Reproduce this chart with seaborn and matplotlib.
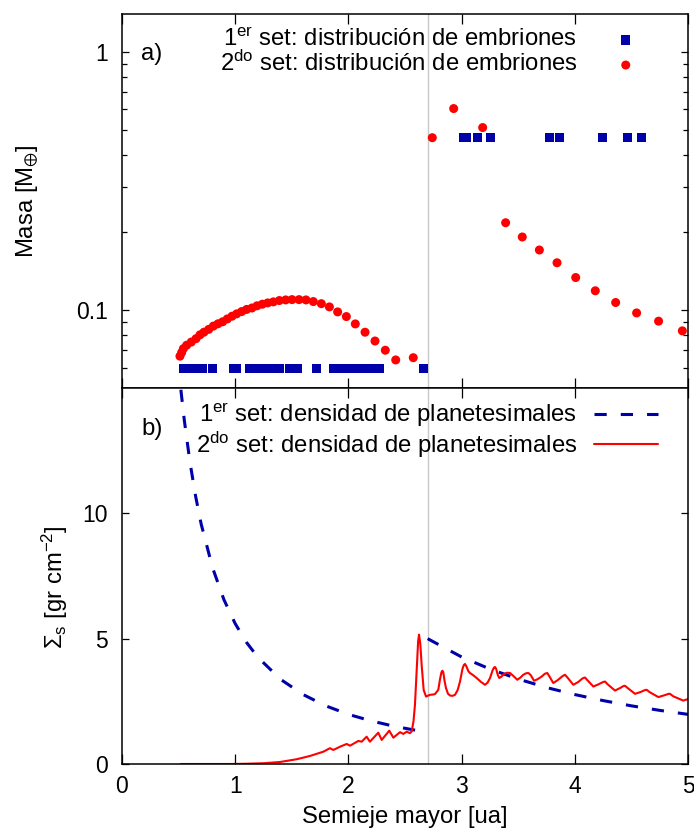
import numpy as np
import pandas as pd
import matplotlib
matplotlib.use("Agg")
import matplotlib.pyplot as plt
import seaborn as sns

# ---------------- data ----------------
# 1st set: embryo distribution (squares)
set1_a = [0.541, 0.58, 0.62, 0.66, 0.709, 0.797, 0.985, 1.01,
          1.125, 1.17, 1.215, 1.26, 1.30, 1.345, 1.393, 1.478, 1.552,
          1.718, 1.867, 1.92, 1.97, 2.02, 2.07, 2.12, 2.17, 2.22, 2.276,
          2.661,
          3.02, 3.04, 3.142, 3.255, 3.776, 3.865, 4.245, 4.468, 4.589]
set1_m = [0.0595] * 28 + [0.465] * 9

# 2nd set: embryo distribution (circles)
set2_a = [0.512, 0.527, 0.542, 0.571, 0.612, 0.654, 0.689, 0.724, 0.766,
          0.807, 0.848, 0.889, 0.93, 0.972, 1.013, 1.057, 1.101, 1.148,
          1.193, 1.24, 1.287, 1.337, 1.39, 1.446, 1.502, 1.564, 1.625,
          1.69, 1.761, 1.832, 1.905, 1.982, 2.061, 2.147, 2.235, 2.326,
          2.418, 2.573, 2.741, 2.93, 3.186, 3.389, 3.536, 3.687, 3.843,
          4.008, 4.181, 4.361, 4.546, 4.74, 4.95]
set2_m = [0.0664, 0.0686, 0.071, 0.0732, 0.0753, 0.0776, 0.0803, 0.0822,
          0.0843, 0.0868, 0.0886, 0.0902, 0.0925, 0.0948, 0.0968, 0.0988,
          0.1007, 0.102, 0.104, 0.1055, 0.1067, 0.1077, 0.109, 0.1096,
          0.1099, 0.1099, 0.1096, 0.108, 0.106, 0.103, 0.0985, 0.0945,
          0.0885, 0.0822, 0.076, 0.070, 0.0642, 0.0655, 0.465, 0.603,
          0.509, 0.218, 0.192, 0.171, 0.1526, 0.1338, 0.1189, 0.1071,
          0.0976, 0.0907, 0.0832]

# 1st set: planetesimal surface density (dashed), inner and outer of snow line
dens1_in_a = [0.52, 0.55, 0.6, 0.65, 0.7, 0.8, 0.9, 1.0, 1.1, 1.2, 1.4,
              1.6, 1.8, 2.0, 2.2, 2.4, 2.6, 2.7]
dens1_in_s = [14.93, 13.73, 12.05, 10.69, 9.56, 7.83, 6.56, 5.6, 4.85,
              4.26, 3.38, 2.77, 2.32, 1.98, 1.72, 1.51, 1.34, 1.26]
dens1_out_a = [2.7, 3.0, 3.25, 3.5, 3.75, 4.0, 4.25, 4.5, 4.75, 5.0]
dens1_out_s = [5.0, 4.27, 3.79, 3.39, 3.05, 2.77, 2.53, 2.32, 2.14, 1.98]

# 2nd set: planetesimal surface density (solid)
dens2_a = [0.52, 0.6, 0.8, 0.954, 1.1, 1.248, 1.396, 1.543, 1.66, 1.778,
           1.837, 1.867, 1.926, 1.985, 2.014, 2.088, 2.117, 2.161, 2.19,
           2.264, 2.294, 2.361, 2.397, 2.456, 2.485, 2.515, 2.544, 2.559,
           2.575, 2.588, 2.605, 2.616, 2.624, 2.635, 2.648, 2.665, 2.686,
           2.70, 2.721, 2.745, 2.765, 2.794, 2.81, 2.822, 2.83, 2.838, 2.85,
           2.862, 2.88, 2.898, 2.92, 2.942, 2.965, 2.986, 3.008, 3.02, 3.03,
           3.042, 3.06, 3.074, 3.10, 3.133, 3.17, 3.207, 3.23, 3.251, 3.275,
           3.287, 3.295, 3.305, 3.32, 3.333, 3.35, 3.375, 3.40, 3.428, 3.46,
           3.492, 3.52, 3.545, 3.57, 3.59, 3.61, 3.64, 3.67, 3.708, 3.735,
           3.757, 3.775, 3.81, 3.85, 3.89, 3.913, 3.935, 3.987, 4.03, 4.07,
           4.09, 4.11, 4.164, 4.21, 4.25, 4.267, 4.29, 4.355, 4.40, 4.43,
           4.443, 4.47, 4.532, 4.58, 4.62, 4.635, 4.66, 4.738, 4.79, 4.83,
           4.841, 4.87, 4.958, 5.0]
dens2_s = [0.0, 0.0, 0.0, 0.0, 0.01, 0.03, 0.08, 0.19, 0.32, 0.49,
           0.63, 0.56, 0.69, 0.8, 0.73, 0.92, 0.89, 1.09, 0.89,
           1.25, 0.96, 1.33, 1.05, 1.27, 1.2, 1.29, 1.23, 1.3,
           1.7, 2.36, 3.9, 4.9, 5.16, 4.8, 3.9, 2.95, 2.69,
           2.72, 2.76, 2.77, 2.79, 2.96, 3.4, 3.66, 3.72, 3.66, 3.3,
           3.03, 2.8, 2.73, 2.72, 2.76, 2.95, 3.29, 3.8, 3.95, 3.99,
           3.9, 3.7, 3.63, 3.55, 3.43, 3.28, 3.16, 3.25, 3.43, 3.75,
           3.85, 3.87, 3.8, 3.55, 3.43, 3.48, 3.59, 3.64, 3.63, 3.5,
           3.36, 3.45, 3.56, 3.62, 3.63, 3.55, 3.32, 3.38, 3.49, 3.6,
           3.63, 3.5, 3.23, 3.35, 3.5, 3.56, 3.45, 3.16, 3.27, 3.42,
           3.45, 3.35, 3.09, 3.18, 3.27, 3.29, 3.18, 2.93, 3.03, 3.11,
           3.12, 3.02, 2.8, 2.87, 2.95, 2.96, 2.87, 2.67, 2.74, 2.8,
           2.8, 2.7, 2.53, 2.59]

snow_line = 2.7

label1_top = r"$1^{er}$ set: distribución de embriones"
label2_top = r"$2^{do}$ set: distribución de embriones"
label1_bot = r"$1^{er}$ set: densidad de planetesimales"
label2_bot = r"$2^{do}$ set: densidad de planetesimales"

BLUE = "#0000aa"
RED = "#ff0000"

# ---------------- style ----------------
sns.set_style("ticks")
plt.rcParams.update({
    "font.family": ["Liberation Sans", "DejaVu Sans"],
    "mathtext.fontset": "custom",
    "mathtext.rm": "Liberation Sans",
    "mathtext.it": "Liberation Sans:italic",
    "mathtext.bf": "Liberation Sans:bold",
    "mathtext.sf": "Liberation Sans",
    "mathtext.default": "regular",
    "font.size": 16.5,
    "axes.linewidth": 1.1,
    "axes.edgecolor": "black",
    "xtick.color": "black",
    "ytick.color": "black",
    "text.color": "black",
    "axes.labelcolor": "black",
})
FS_TXT = 17.2

fig = plt.figure(figsize=(6.94, 8.36), dpi=100)
W, H = 694.0, 836.0
ax1 = fig.add_axes([122 / W, 1 - 388 / H, 566 / W, 374 / H])
ax2 = fig.add_axes([122 / W, 1 - 764 / H, 566 / W, 376 / H])

# ---------------- panel a ----------------
df1 = pd.DataFrame({"a": set1_a, "m": set1_m})
df2 = pd.DataFrame({"a": set2_a, "m": set2_m})
ax1.axvline(snow_line, color="#c8c8c8", lw=1.0, zorder=1)
sns.scatterplot(data=df1, x="a", y="m", ax=ax1, marker="s", s=46,
                color=BLUE, edgecolor="none", linewidth=0, label=label1_top,
                zorder=3)
sns.scatterplot(data=df2, x="a", y="m", ax=ax1, marker="o", s=42,
                color=RED, edgecolor="none", linewidth=0, label=label2_top,
                zorder=4)
ax1.set_yscale("log")
ax1.set_xlim(0, 5)
ax1.set_ylim(0.05, 1.4)
ax1.set_yticks([0.1, 1], ["0.1", "1"])
ax1.set_yticks([0.06, 0.07, 0.08, 0.09, 0.2, 0.3, 0.4, 0.5, 0.6, 0.7, 0.8, 0.9],
               minor=True)
ax1.yaxis.set_minor_formatter(matplotlib.ticker.NullFormatter())
ax1.set_xticks([0, 1, 2, 3, 4, 5])
ax1.set_xticks([], minor=True)
ax1.tick_params(axis="x", which="both", labelbottom=False)
ax1.set_xlabel("")
ax1.set_ylabel(r"Masa [M$_{\oplus}$]", fontsize=FS_TXT)
ax1.yaxis.set_label_coords(-0.143, 0.5)
ax1.text(0.034, 0.876, "a)", transform=ax1.transAxes, ha="left",
         va="baseline", fontsize=FS_TXT)
leg1 = ax1.legend(loc="upper right", bbox_to_anchor=(0.947, 0.962),
                  markerfirst=False, frameon=False, handlelength=2.7,
                  handletextpad=0.68, labelspacing=0.0, borderpad=0,
                  borderaxespad=0, scatterpoints=1, fontsize=FS_TXT)

# ---------------- panel b ----------------
d_in = pd.DataFrame({"a": dens1_in_a, "s": dens1_in_s})
d_out = pd.DataFrame({"a": dens1_out_a, "s": dens1_out_s})
d2 = pd.DataFrame({"a": dens2_a, "s": dens2_s})
ax2.axvline(snow_line, color="#c8c8c8", lw=1.0, zorder=1)
sns.lineplot(data=d_in, x="a", y="s", ax=ax2, color=BLUE, lw=2.2,
             estimator=None, sort=False, label=label1_bot,
             dashes=False, zorder=3)
sns.lineplot(data=d_out, x="a", y="s", ax=ax2, color=BLUE, lw=2.2,
             estimator=None, sort=False, zorder=3)
sns.lineplot(data=d2, x="a", y="s", ax=ax2, color=RED, lw=1.5,
             estimator=None, sort=False, label=label2_bot, zorder=4)
for ln in ax2.lines[1:3]:
    ln.set_dashes((4.0, 4.6))
ax2.lines[3].set_solid_joinstyle("round")
ax2.set_xlim(0, 5)
ax2.set_ylim(0, 15)
ax2.set_xticks([0, 1, 2, 3, 4, 5], ["0", "1", "2", "3", "4", "5"])
ax2.set_yticks([0, 5, 10], ["0", "5", "10"])
ax2.set_xlabel("Semieje mayor [ua]", fontsize=FS_TXT)
ax2.set_ylabel(r"$\Sigma_s$ [gr cm$^{-2}$]", fontsize=FS_TXT)
ax2.yaxis.set_label_coords(-0.092, 0.47)
ax2.xaxis.set_label_coords(0.5, -0.112)
ax2.text(0.034, 0.876, "b)", transform=ax2.transAxes, ha="left",
         va="baseline", fontsize=FS_TXT)
handles, labels = ax2.get_legend_handles_labels()
leg2 = ax2.legend(handles=handles, labels=labels, loc="upper right",
                  bbox_to_anchor=(0.947, 0.964), markerfirst=False,
                  frameon=False, handlelength=2.7, handletextpad=0.68,
                  labelspacing=0.0, borderpad=0, borderaxespad=0,
                  fontsize=FS_TXT)
for h in leg2.legend_handles[:1]:
    h.set_dashes((4.0, 4.6))

for ax in (ax1, ax2):
    ax.tick_params(axis="both", which="both", direction="in", top=True,
                   right=True)
    ax.tick_params(axis="x", which="major", length=7.2, width=0.9, pad=8)
    ax.tick_params(axis="y", which="major", length=5.0, width=0.9, pad=10)
    ax.tick_params(axis="y", which="minor", length=3.4, width=0.9)
    for sp in ax.spines.values():
        sp.set_visible(True)
        sp.set_linewidth(1.1)
        sp.set_zorder(10)

fig.savefig("out.png", dpi=100)
